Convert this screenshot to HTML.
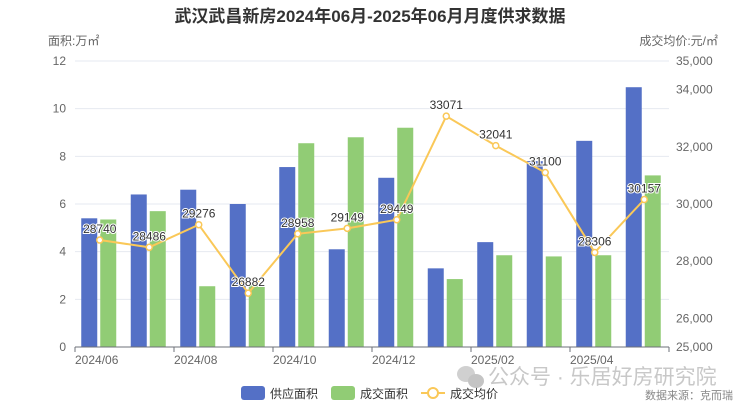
<!DOCTYPE html><html><head><meta charset="utf-8"><style>
body{margin:0;background:#fff;width:740px;height:406px;overflow:hidden;font-family:"Liberation Sans","Noto Sans CJK SC",sans-serif}
</style></head><body>
<svg width="740" height="406" xmlns="http://www.w3.org/2000/svg" font-family="Liberation Sans, Noto Sans CJK SC, sans-serif">
<text x="370" y="22" text-anchor="middle" font-size="17" font-weight="bold" fill="#333">武汉武昌新房2024年06月-2025年06月月度供求数据</text>
<text x="48" y="45" font-size="12" fill="#666">面积:万㎡</text>
<text x="718" y="45" font-size="12" fill="#666" text-anchor="end">成交均价:元/㎡</text>
<g id="grid" stroke="#e6e9f0" stroke-width="1"></g>
<g id="bars"></g>
<g id="axes"></g>
<g id="line"></g>
<ellipse cx="466" cy="374" rx="9" ry="8" fill="#d0d0d0"/>
<ellipse cx="476" cy="381" rx="8" ry="7" fill="#c4c4c4"/>
<text x="488" y="384" font-size="21" fill="#c8c8c8">公众号 · 乐居好房研究院</text>
<rect x="241" y="386" width="24" height="14" rx="3" fill="#5470c6"/>
<text x="270" y="398" font-size="12" fill="#333">供应面积</text>
<rect x="331" y="386" width="24" height="14" rx="3" fill="#91cc75"/>
<text x="360" y="398" font-size="12" fill="#333">成交面积</text>
<line x1="421" y1="393" x2="445" y2="393" stroke="#fac858" stroke-width="2"/>
<circle cx="433" cy="393" r="5" fill="#fff" stroke="#fac858" stroke-width="2"/>
<text x="450" y="398" font-size="12" fill="#333">成交均价</text>
<text x="733" y="399" font-size="11" fill="#888" text-anchor="end">数据来源：克而瑞</text>
</svg>
<script>
const ns="http://www.w3.org/2000/svg";
function el(p,t,a,txt){const e=document.createElementNS(ns,t);for(const k in a)e.setAttribute(k,a[k]);if(txt!=null)e.textContent=txt;document.getElementById(p).appendChild(e);}
const x0=75,cw=49.5,y0=347,yt=61,uy=(y0-yt)/12,py=(y0-yt)/10000;
for(let i=0;i<=6;i++){const y=y0-i*2*uy;if(i>0)el("grid","line",{x1:x0,x2:669,y1:y,y2:y});
el("axes","text",{x:66,y:y+4,"font-size":12,fill:"#666","text-anchor":"end"},i*2);}
[25000,26000,28000,30000,32000,34000,35000].forEach(v=>{const y=y0-(v-25000)*py;
el("axes","text",{x:676,y:y+4,"font-size":12,fill:"#666"},v.toLocaleString("en-US"));});
const s=[5.4,6.4,6.6,6.0,7.55,4.1,7.1,3.3,4.4,7.8,8.65,10.9];
const d=[5.35,5.7,2.55,2.6,8.55,8.8,9.2,2.85,3.85,3.8,3.85,7.2];
const p=[28740,28486,29276,26882,28958,29149,29449,33071,32041,31100,28306,30157];
const lbl=["2024/06","2024/08","2024/10","2024/12","2025/02","2025/04"];
let pts=[];
for(let i=0;i<12;i++){const c=x0+cw*i+cw/2;
el("bars","rect",{x:c-18.5,y:y0-s[i]*uy,width:16,height:s[i]*uy,fill:"#5470c6"});
el("bars","rect",{x:c+0.5,y:y0-d[i]*uy,width:16,height:d[i]*uy,fill:"#91cc75"});
pts.push([c,y0-(p[i]-25000)*py]);}
el("axes","line",{x1:x0,x2:669,y1:y0,y2:y0,stroke:"#6e7079"});
for(let i=0;i<=12;i+=2){const x=x0+cw*i;el("axes","line",{x1:x,x2:x,y1:y0,y2:y0+5,stroke:"#6e7079"});
if(i<12)el("axes","text",{x:x,y:y0+17,"font-size":12,fill:"#666"},lbl[i/2]);}
el("line","polyline",{points:pts.map(a=>a.join(",")).join(" "),fill:"none",stroke:"#fac858","stroke-width":2});
pts.forEach((a,i)=>{el("line","circle",{cx:a[0],cy:a[1],r:3,fill:"#fff",stroke:"#fac858","stroke-width":1.5});
el("line","text",{x:a[0],y:a[1]-7,"font-size":12,fill:"#333","text-anchor":"middle",stroke:"#fff","stroke-width":2,"paint-order":"stroke"},p[i]);});
</script>
</body></html>
